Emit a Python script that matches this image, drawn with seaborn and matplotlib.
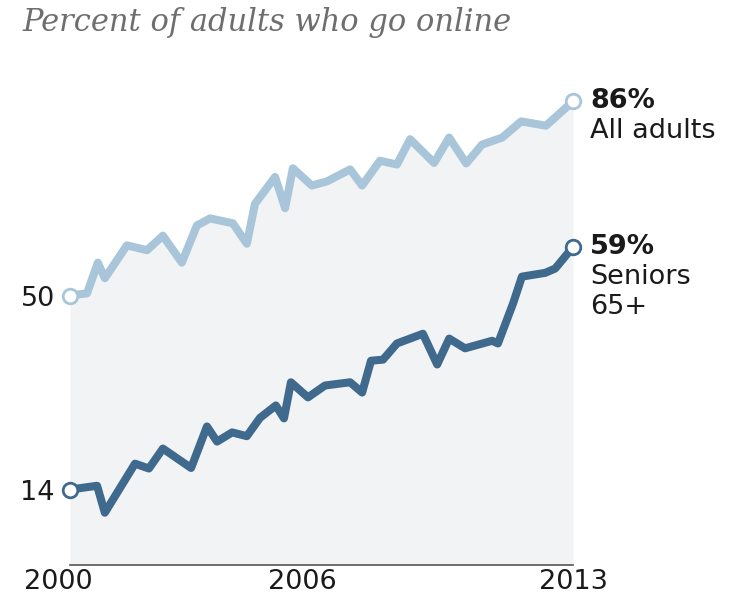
import numpy as np
import pandas as pd
import matplotlib
matplotlib.use("Agg")
import matplotlib.pyplot as plt
import matplotlib.transforms as mtransforms
import seaborn as sns

# Survey dates (decimal years) and share of each group online (%)
adults_dates = [2000.0, 2000.44, 2000.72, 2000.90, 2001.47, 2001.99, 2002.40, 2002.89,
                2003.28, 2003.62, 2004.21, 2004.57, 2004.78, 2005.30, 2005.56, 2005.76,
                2006.25, 2006.65, 2007.24, 2007.55, 2008.01, 2008.45, 2008.79, 2009.41,
                2009.80, 2010.24, 2010.65, 2011.17, 2011.66, 2012.30, 2013.0]
adults_pct = [50, 50.4, 56.1, 53.2, 59.3, 58.4, 61.1, 56.1,
              63.0, 64.3, 63.4, 59.6, 67.0, 72.0, 66.2, 73.6,
              70.4, 71.2, 73.4, 70.4, 75.0, 74.3, 79.0, 74.6,
              79.3, 74.5, 78.0, 79.3, 82.3, 81.5, 86]

seniors_dates = [2000.0, 2000.70, 2000.90, 2001.68, 2002.04, 2002.40, 2003.13, 2003.54,
                 2003.80, 2004.19, 2004.57, 2004.91, 2005.32, 2005.53, 2005.71, 2006.15,
                 2006.59, 2007.24, 2007.55, 2007.78, 2008.09, 2008.45, 2009.12, 2009.49,
                 2009.80, 2010.21, 2010.91, 2011.06, 2011.45, 2011.68, 2012.28, 2012.54,
                 2013.0]
seniors_pct = [14, 14.7, 9.7, 18.8, 17.9, 21.6, 18.0, 25.7,
               22.9, 24.6, 23.9, 27.3, 29.6, 27.2, 33.9, 31.1,
               33.3, 33.9, 32.0, 37.9, 38.1, 41.1, 42.9, 37.2,
               42.0, 40.2, 41.6, 41.1, 48.5, 53.5, 54.2, 55.0,
               59]

groups = ["All adults", "Seniors 65+"]
end_labels = [["All adults"], ["Seniors", "65+"]]
tick_years = [2000, 2006, 2013]
tick_values = [14, 50]

light_blue = "#a8c5da"
dark_blue = "#3f6a8d"
fill_grey = "#f2f3f4"
ink = "#1a1a1a"

df = pd.concat([
    pd.DataFrame({"date": adults_dates, "pct": adults_pct, "group": groups[0]}),
    pd.DataFrame({"date": seniors_dates, "pct": seniors_pct, "group": groups[1]}),
], ignore_index=True)

sns.set_style("white")
plt.rcParams["font.family"] = ["DejaVu Sans"]

W, H = 744, 598
fig = plt.figure(figsize=(W / 100, H / 100), dpi=100)
ax = fig.add_axes([70 / W, (H - 565) / H, 503 / W, 539 / H])
ax.set_xlim(2000, 2013)
ax.set_ylim(0, 100)

# shaded area beneath the all-adults series
ax.fill_between(adults_dates, adults_pct, 0, color=fill_grey, lw=0, zorder=0)

sns.lineplot(data=df, x="date", y="pct", hue="group",
             palette=[light_blue, dark_blue], linewidth=5.8,
             legend=False, ax=ax, zorder=2, sort=False)
for line in ax.get_lines():
    line.set_solid_joinstyle("round")
    line.set_solid_capstyle("round")

# open circles at the first and last survey of each series
ends = pd.DataFrame({
    "date": [adults_dates[0], adults_dates[-1], seniors_dates[0], seniors_dates[-1]],
    "pct": [adults_pct[0], adults_pct[-1], seniors_pct[0], seniors_pct[-1]],
})
for (_, row), col in zip(ends.iterrows(), [light_blue, light_blue, dark_blue, dark_blue]):
    ax.plot(row["date"], row["pct"], "o", ms=10.5, mfc="white", mec=col, mew=2.0,
            zorder=5, clip_on=False)

for sp in ["top", "right", "left"]:
    ax.spines[sp].set_visible(False)
ax.spines["bottom"].set_color("#555555")
ax.spines["bottom"].set_linewidth(1.2)

ax.set_xticks(tick_years)
ax.set_xticklabels([str(y) for y in tick_years])
ax.set_yticks(tick_values)
ax.set_yticklabels([str(v) for v in tick_values])
ax.tick_params(axis="both", length=0, labelsize=19.5, colors=ink)
ax.tick_params(axis="y", pad=11)
ax.tick_params(axis="x", pad=3)
ax.set_xlabel("")
ax.set_ylabel("")
# first year label sits a little to the left of its tick
first = ax.get_xticklabels()[0]
first.set_transform(first.get_transform() +
                    mtransforms.ScaledTranslation(-12 / 100, 0, fig.dpi_scale_trans))

# end-of-line value labels
ends_last = [(adults_dates[-1], adults_pct[-1], end_labels[0]),
             (seniors_dates[-1], seniors_pct[-1], end_labels[1])]
for x, y, lines in ends_last:
    ax.annotate(f"{y:g}%", (x, y), xytext=(12.5, 0), textcoords="offset points",
                ha="left", va="center", fontsize=19.5, fontweight="bold",
                color=ink, annotation_clip=False)
    for i, t in enumerate(lines):
        ax.annotate(t, (x, y), xytext=(12.5, -21.5 * (i + 1)), textcoords="offset points",
                    ha="left", va="center", fontsize=19.5, color=ink,
                    annotation_clip=False)

fig.text(22 / W, 1 - 22 / H, "Percent of adults who go online", ha="left", va="center",
         fontsize=22, style="italic", family=["DejaVu Serif"], color="#6e6e6e")

fig.savefig("out.png", dpi=100)
